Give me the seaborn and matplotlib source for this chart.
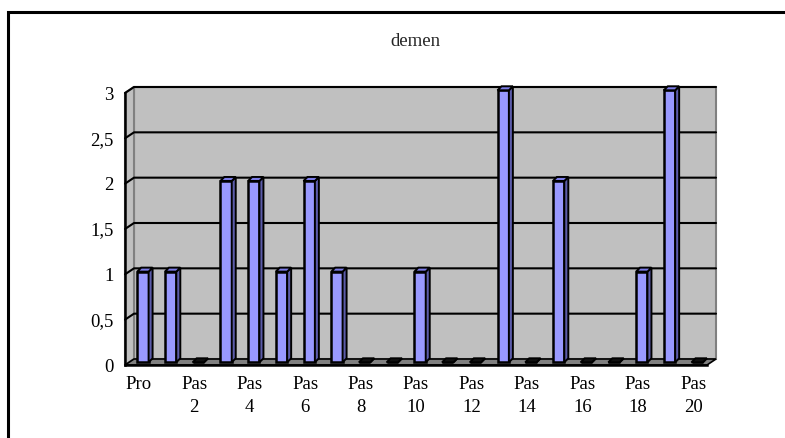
import matplotlib
matplotlib.use("Agg")
import matplotlib.pyplot as plt
import seaborn as sns
import pandas as pd
from matplotlib.patches import Polygon, Rectangle

# data
categories = ["Pro"] + ["Pas %d" % i for i in range(1, 21)]
values = [1, 1, 0, 2, 2, 1, 2, 1, 0, 0, 1, 0, 0, 3, 0, 2, 0, 0, 1, 3, 0]
yticks = [0, 0.5, 1, 1.5, 2, 2.5, 3]
ytick_labels = ["0", "0,5", "1", "1,5", "2", "2,5", "3"]
xtick_labels = ["Pro" if i == 0 else ("Pas\n%d" % i if i % 2 == 0 else "") for i in range(21)]

sns.set_style("white")
plt.rcParams["font.family"] = ["Liberation Serif", "DejaVu Serif"]

W, H = 785, 438
fig = plt.figure(figsize=(W / 100, H / 100), dpi=100)

# front plane of the plot area, in pixels
left, right, bottom, top = 125, 707, 365, 93
ax = fig.add_axes([left / W, 1 - bottom / H, (right - left) / W, (bottom - top) / H])
ax.set_facecolor("none")

n = len(categories)
xmin, xmax = -0.5, n - 0.5
ymax = 3
ax.set_xlim(xmin, xmax)
ax.set_ylim(0, ymax)

# 3d depth of the walls, converted to data units
dx_px, dy_px = 9, 6
ddx = dx_px / (right - left) * (xmax - xmin)
ddy = dy_px / (bottom - top) * ymax

wall = "#c0c0c0"
ax.add_patch(Rectangle((xmin + ddx, ddy), xmax - xmin, ymax, facecolor=wall,
                       edgecolor="#808080", lw=1.5, zorder=0, clip_on=False))
ax.add_patch(Polygon([(xmin, 0), (xmin, ymax), (xmin + ddx, ymax + ddy), (xmin + ddx, ddy)],
                     closed=True, facecolor=wall, edgecolor="#808080", lw=1.5,
                     zorder=0, clip_on=False))
ax.add_patch(Polygon([(xmin, 0), (xmax, 0), (xmax + ddx, ddy), (xmin + ddx, ddy)],
                     closed=True, facecolor="#808080", edgecolor="black", lw=1.2,
                     zorder=1, clip_on=False))
for y in yticks[1:]:
    ax.plot([xmin, xmin + ddx, xmax + ddx], [y, y + ddy, y + ddy],
            color="black", lw=1.5, zorder=1, clip_on=False)

df = pd.DataFrame({"cat": categories, "val": values})
sns.barplot(data=df, x="cat", y="val", color="#9999ff", saturation=1,
            width=0.41, edgecolor="black", linewidth=1.8, ax=ax, zorder=3)

# bar depth
bx = 4 / (right - left) * (xmax - xmin)
by = 4 / (bottom - top) * ymax
for p in ax.patches[:]:
    if not isinstance(p, Rectangle) or p.get_zorder() != 3:
        continue
    p.set_x(p.get_x() + ddx * 0.45)
    p.set_y(ddy * 0.45)
    p.set_clip_on(False)
    x0 = p.get_x()
    x1 = x0 + p.get_width()
    y0 = p.get_y()
    h = y0 + p.get_height()
    ax.add_patch(Polygon([(x1, y0), (x1 + bx, y0 + by), (x1 + bx, h + by), (x1, h)],
                         closed=True, facecolor="#5c5caa", edgecolor="black",
                         lw=1.4, zorder=3, clip_on=False))
    top_color = "#7c7ce6" if p.get_height() > 0 else "#111111"
    ax.add_patch(Polygon([(x0, h), (x1, h), (x1 + bx, h + by), (x0 + bx, h + by)],
                         closed=True, facecolor=top_color, edgecolor="black",
                         lw=1.4, zorder=3, clip_on=False))

sns.despine(ax=ax, top=True, right=True)
for s in ["left", "bottom"]:
    ax.spines[s].set_color("black")
    ax.spines[s].set_linewidth(1.8)
    ax.spines[s].set_zorder(4)

ax.set_yticks(yticks)
ax.set_yticklabels(ytick_labels)
ax.set_xticks(range(n))
ax.set_xticklabels(xtick_labels, linespacing=1.45)
ax.set_xticks([i - 0.5 for i in range(n + 1)], minor=True)
ax.tick_params(axis="x", which="major", length=0, pad=8, labelsize=13.5, colors="black")
ax.tick_params(axis="x", which="minor", length=6, width=1.5, direction="out", color="black")
ax.tick_params(axis="y", length=6, width=1.5, direction="out", pad=2, labelsize=13.5,
               colors="black")
for lbl in ax.get_xticklabels():
    lbl.set_x(lbl.get_position()[0])
ax.set_xlabel("")
ax.set_ylabel("")

fig.text(415 / W, 1 - 42 / H, "demen", ha="center", va="center", fontsize=13.5)

# chart frame, cut off at right and bottom like the reference
fig.add_artist(Rectangle((8 / W, -0.1), 1.0, (H - 12) / H + 0.1, fill=False,
                         lw=2.2, edgecolor="black", transform=fig.transFigure))

fig.savefig("out.png", dpi=100)
